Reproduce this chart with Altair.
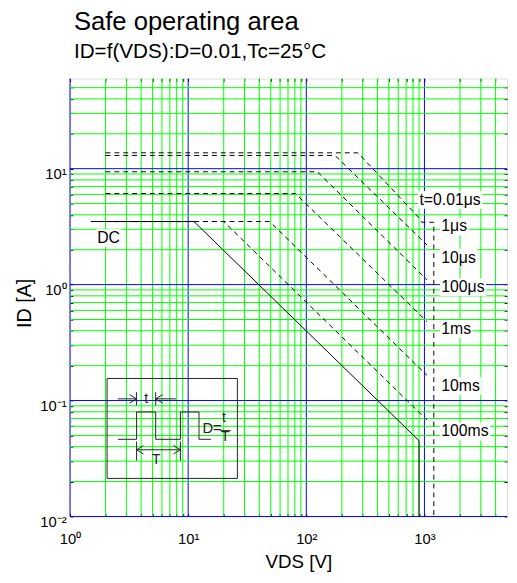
import math
import altair as alt
import pandas as pd

# ---------------- data ----------------
X_DOMAIN = [1, 5000]
Y_DOMAIN = [0.01, 60]
W, H = 444, 445

decades_x = [1, 10, 100, 1000]
decades_y = [0.01, 0.1, 1, 10]
minor_steps = [2, 3, 4, 5, 6, 7, 8, 9]
x_tick_labels = ["10⁰", "10¹", "10²", "10³"]
y_tick_labels = ["10⁻²", "10⁻¹", "10⁰", "10¹"]

# SOA curves: VDS [V], ID [A]
p1_v = [2, 273, 915, 950, 1200, 1200]
p1_i = [13.7, 13.7, 3.7, 3.45, 3.45, 0.01]
p2_v = [2, 175, 1050]
p2_i = [13.0, 13.0, 2.2]
p3_v = [2, 124, 1050]
p3_i = [9.4, 9.4, 1.1]
p4_v = [2, 81, 1050]
p4_i = [6.1, 6.1, 0.48]
p5_v = [2, 49, 1050]
p5_i = [3.5, 3.5, 0.165]
p6_v = [2, 20, 1050]
p6_i = [3.5, 3.5, 0.068]
dc_v = [1.5, 11.2, 900, 900]
dc_i = [3.5, 3.5, 0.045, 0.01]

label_text = ["t=0.01μs", "1μs", "10μs", "100μs", "1ms", "10ms", "100ms", "DC"]
label_v = [908, 1390, 1390, 1390, 1390, 1390, 1390, 1.70]
label_i = [5.38, 3.17, 1.71, 0.949, 0.415, 0.134, 0.054, 2.52]

# inset (pulse definition)
box_v = [2.06, 26.1, 26.1, 2.06, 2.06]
box_i = [0.155, 0.155, 0.0213, 0.0213, 0.155]
wave_v = [2.54, 3.66, 3.66, 5.31, 5.31, 8.6, 8.6, 12.35, 12.35, 15.6]
wave_i = [0.0463, 0.0463, 0.0797, 0.0797, 0.0463, 0.0463, 0.0797, 0.0797, 0.0463, 0.0463]
t_left_v = [2.54, 3.66]
t_right_v = [5.31, 7.88]
t_line_i = 0.1034
t_tick_i = [0.0907, 0.118]
T_tick_v = [3.66, 8.6]
T_tick_i = [0.0303, 0.0443]
T_line_i = 0.0376
frac_bar_v = [18.7, 22.95]
frac_bar_i = 0.055
inset_text = ["t", "T", "t", "T"]
inset_text_v = [4.41, 5.37, 20.1, 20.6]
inset_text_i = [0.1034, 0.0309, 0.0709, 0.0482]
deq_text = "D="
deq_v = 13.2
deq_i = 0.0575

FONT = "Liberation Sans"
INK = "#222222"

# ---------------- build tables ----------------
xs = alt.Scale(type="log", domain=X_DOMAIN, nice=False)
ys = alt.Scale(type="log", domain=Y_DOMAIN, nice=False)

x_minor = [d * m for d in decades_x for m in minor_steps if d * m < X_DOMAIN[1]]
y_minor = [d * m for d in decades_y for m in minor_steps if d * m < Y_DOMAIN[1]]
x_ticks = sorted(decades_x + x_minor)
y_ticks = sorted(decades_y + y_minor)

gx = pd.DataFrame({"v": decades_x + x_minor,
                   "kind": ["major"] * len(decades_x) + ["minor"] * len(x_minor)})
gy = pd.DataFrame({"i": decades_y + y_minor,
                   "kind": ["major"] * len(decades_y) + ["minor"] * len(y_minor)})
gcolor = alt.Color("kind:N", scale=alt.Scale(domain=["major", "minor"],
                                            range=["#0000ff", "#00ff00"]), legend=None)

grid_x = alt.Chart(gx).mark_rule(strokeWidth=1).encode(
    x=alt.X("v:Q", scale=xs, axis=None), color=gcolor)
grid_y = alt.Chart(gy).mark_rule(strokeWidth=1).encode(
    y=alt.Y("i:Q", scale=ys, axis=None), color=gcolor)


def poly(name, vs, is_):
    return pd.DataFrame({"c": name, "o": range(len(vs)), "v": vs, "i": is_})

dashed = pd.concat([poly("p1", p1_v, p1_i), poly("p2", p2_v, p2_i),
                    poly("p3", p3_v, p3_i), poly("p4", p4_v, p4_i),
                    poly("p5", p5_v, p5_i), poly("p6", p6_v, p6_i)])
solid = poly("dc", dc_v, dc_i)

enc = dict(x=alt.X("v:Q", scale=xs, axis=None), y=alt.Y("i:Q", scale=ys, axis=None),
           detail="c:N", order="o:Q")
dashed_layer = alt.Chart(dashed).mark_line(color="black", strokeWidth=1,
                                           strokeDash=[5, 4]).encode(**enc)
solid_layer = alt.Chart(solid).mark_line(color="black", strokeWidth=1).encode(**enc)

# inset polylines
ins = pd.concat([
    poly("box", box_v, box_i),
    poly("wave", wave_v, wave_i),
    poly("tl", t_left_v, [t_line_i] * 2),
    poly("tr", t_right_v, [t_line_i] * 2),
    poly("tt1", [t_left_v[1]] * 2, t_tick_i),
    poly("tt2", [t_right_v[0]] * 2, t_tick_i),
    poly("Tt1", [T_tick_v[0]] * 2, T_tick_i),
    poly("Tt2", [T_tick_v[1]] * 2, T_tick_i),
    poly("Tl", T_tick_v, [T_line_i] * 2),
    poly("fb", frac_bar_v, [frac_bar_i] * 2),
])
inset_lines = alt.Chart(ins).mark_line(strokeWidth=1, color=INK).encode(**enc)

right_head = "M-1,-0.6L0,0L-1,0.6"
left_head = "M1,-0.6L0,0L1,0.6"
heads_r = pd.DataFrame({"v": [t_left_v[1], T_tick_v[1]], "i": [t_line_i, T_line_i]})
heads_l = pd.DataFrame({"v": [t_right_v[0], T_tick_v[0]], "i": [t_line_i, T_line_i]})
xy = dict(x=alt.X("v:Q", scale=xs, axis=None), y=alt.Y("i:Q", scale=ys, axis=None))
hr = alt.Chart(heads_r).mark_point(shape=right_head, filled=False, stroke=INK,
                                   strokeWidth=1, size=196, opacity=1).encode(**xy)
hl = alt.Chart(heads_l).mark_point(shape=left_head, filled=False, stroke=INK,
                                   strokeWidth=1, size=196, opacity=1).encode(**xy)

itxt = pd.DataFrame({"t": inset_text, "v": inset_text_v, "i": inset_text_i})
inset_txt = alt.Chart(itxt).mark_text(font=FONT, fontSize=14, color=INK,
                                      align="center", baseline="middle").encode(
    text="t:N", **xy)
deq = alt.Chart(pd.DataFrame({"t": [deq_text], "v": [deq_v], "i": [deq_i]})).mark_text(
    font=FONT, fontSize=15, color=INK, align="left", baseline="middle").encode(
    text="t:N", **xy)

# curve labels with white boxes
LBL_FS = 16
em = {"t": .278, "=": .584, ".": .278, "μ": .576, "s": .5, "m": .833,
      "D": .722, "C": .722}
px_dec_x = W / math.log10(X_DOMAIN[1] / X_DOMAIN[0])
px_dec_y = H / math.log10(Y_DOMAIN[1] / Y_DOMAIN[0])
rows = []
for t, v, i in zip(label_text, label_v, label_i):
    w = sum(em.get(ch, .556) for ch in t) * LBL_FS
    rows.append({"t": t, "v": v, "i": i,
                 "v1": v * 10 ** (-1.5 / px_dec_x), "v2": v * 10 ** ((w + 1.5) / px_dec_x),
                 "i1": i * 10 ** (-9 / px_dec_y), "i2": i * 10 ** (9 / px_dec_y)})
lbl = pd.DataFrame(rows)
lbl_box = alt.Chart(lbl).mark_rect(color="white").encode(
    x=alt.X("v1:Q", scale=xs, axis=None), x2="v2:Q",
    y=alt.Y("i1:Q", scale=ys, axis=None), y2="i2:Q")
lbl_txt = alt.Chart(lbl).mark_text(font=FONT, fontSize=LBL_FS, color="black",
                                   align="left", baseline="middle").encode(
    text="t:N", **xy)


def lab_expr(vals, labs):
    e = "''"
    for v, l in reversed(list(zip(vals, labs))):
        e = f"datum.value == {v} ? '{l}' : ({e})"
    return e

anchor_df = pd.DataFrame({"v": X_DOMAIN, "i": Y_DOMAIN})
common = dict(tickSize=3, offset=-3, domain=False, grid=False, tickColor="black",
              tickWidth=1, labelOverlap=False, labelFlush=False)
axes1 = alt.Chart(anchor_df).mark_point(opacity=0).encode(
    x=alt.X("v:Q", scale=xs, axis=alt.Axis(
        orient="bottom", values=x_ticks, labelExpr=lab_expr(decades_x, x_tick_labels),
        labelFont=FONT, labelFontSize=15, labelColor="black", labelPadding=15,
        title="VDS [V]", titleFont=FONT, titleFontSize=19, titleFontWeight="normal",
        titleColor="black", titleX=232, titleY=55, titleBaseline="alphabetic",
        titleAlign="center", **common)),
    y=alt.Y("i:Q", scale=ys, axis=alt.Axis(
        orient="left", values=y_ticks, labelExpr=lab_expr(decades_y, y_tick_labels),
        labelFont=FONT, labelFontSize=15, labelColor="black", labelPadding=4,
        labelOffset=5,
        title="ID [A]", titleFont=FONT, titleFontSize=20, titleFontWeight="normal",
        titleColor="black", titleX=-43, titleY=228, titleAngle=270,
        titleBaseline="alphabetic", titleAlign="center", **common)))
axes2 = alt.Chart(anchor_df).mark_point(opacity=0).encode(
    x=alt.X("v:Q", scale=xs, axis=alt.Axis(orient="top", values=x_ticks, labels=False,
                                           title=None, **common)),
    y=alt.Y("i:Q", scale=ys, axis=alt.Axis(orient="right", values=y_ticks, labels=False,
                                           title=None, **common)))

chart = alt.layer(
    grid_x, grid_y, inset_lines, hr, hl, inset_txt, deq,
    dashed_layer, solid_layer, lbl_box, lbl_txt, axes1, axes2
).resolve_axis(x="independent", y="independent").properties(
    width=W, height=H,
    autosize="none",
    padding={"left": 63, "top": 67, "right": 2, "bottom": 63},
    title=alt.TitleParams("Safe operating area", subtitle="ID=f(VDS):D=0.01,Tc=25°C",
                          anchor="start", frame="group", font=FONT, fontSize=26,
                          fontWeight="normal", color="black", subtitleFont=FONT,
                          subtitleFontSize=21, subtitleColor="black",
                          subtitlePadding=6, offset=14, dx=4),
).configure_view(stroke="black", strokeWidth=1).configure(background="white")

chart.save("out.html", embed_options={"renderer": "svg", "actions": False})
